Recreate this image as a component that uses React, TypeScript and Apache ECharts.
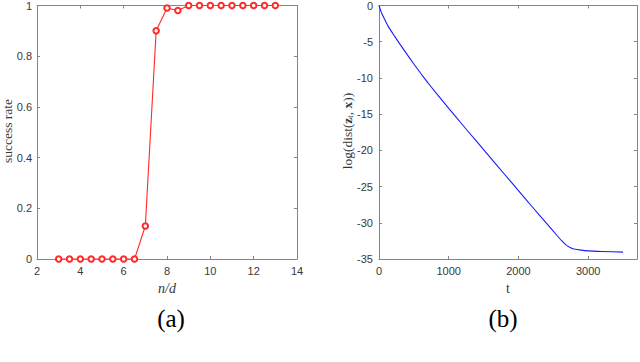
import React, { useEffect, useRef } from "react";
import * as echarts from "echarts";

// Panel (a): success rate vs n/d
const ratioX = [3, 3.5, 4, 4.5, 5, 5.5, 6, 6.5, 7, 7.5, 8, 8.5, 9, 9.5, 10, 10.5, 11, 11.5, 12, 12.5, 13];
const successRate = [0, 0, 0, 0, 0, 0, 0, 0, 0.13, 0.9, 0.99, 0.98, 1, 1, 1, 1, 1, 1, 1, 1, 1];

// Panel (b): log distance vs iteration t
const iterT = [0, 20, 40, 80, 130, 200, 280, 400, 500, 600, 700, 800, 1000, 1200, 1400, 1600, 1800, 2000, 2200, 2400, 2550, 2620, 2680, 2740, 2800, 2900, 3000, 3200, 3500];
const logDist = [0, -0.6, -1.1, -1.9, -2.85, -3.9, -5.05, -6.72, -8.07, -9.39, -10.65, -11.85, -14.2, -16.5, -18.77, -21.03, -23.3, -25.56, -27.82, -30.05, -31.72, -32.48, -33.05, -33.4, -33.62, -33.78, -33.88, -33.96, -34.05];

const xTicksA = { min: 2, max: 14, interval: 2 };
const yTicksA = { min: 0, max: 1, interval: 0.2 };
const xTicksB = { min: 0, max: 3700, interval: 1000 };
const yTicksB = { min: -35, max: 0, interval: 5 };

const AXIS_COLOR = "#858585";
const TEXT_COLOR = "#383838";
const SANS = "'Liberation Sans', Arial, Helvetica, sans-serif";
const SERIF = "'Liberation Serif', 'Times New Roman', serif";

function axisBase(gridIndex: number, pos: string, ticks: any, showLabels: boolean, margin: number, fmt?: (v: number) => string) {
  return {
    type: "value",
    gridIndex,
    position: pos,
    min: ticks.min,
    max: ticks.max,
    interval: ticks.interval,
    splitLine: { show: false },
    axisLine: { show: true, onZero: false, lineStyle: { color: AXIS_COLOR, width: 1 } },
    axisTick: { show: true, inside: true, length: 3, lineStyle: { color: AXIS_COLOR, width: 1 } },
    axisLabel: {
      show: showLabels,
      color: TEXT_COLOR,
      fontFamily: SANS,
      fontSize: 11,
      margin,
      formatter: fmt,
    },
  };
}

export default function App() {
  const ref = useRef<HTMLDivElement>(null);
  useEffect(() => {
    if (!ref.current) return;
    const chart = echarts.init(ref.current, undefined, { renderer: "svg" });
    const option: any = {
      animation: false,
      backgroundColor: "#ffffff",
      grid: [
        { left: 37, top: 4, width: 260, height: 255 },
        { left: 379, top: 4, width: 259, height: 255 },
      ],
      xAxis: [
        axisBase(0, "bottom", xTicksA, true, 6),
        axisBase(0, "top", xTicksA, false, 6),
        axisBase(1, "bottom", xTicksB, true, 6, (v: number) => (v % 1000 === 0 ? String(v) : "")),
        axisBase(1, "top", xTicksB, false, 6),
      ],
      yAxis: [
        axisBase(0, "left", yTicksA, true, 5),
        axisBase(0, "right", yTicksA, false, 5),
        axisBase(1, "left", yTicksB, true, 6),
        axisBase(1, "right", yTicksB, false, 6),
      ],
      series: [
        {
          type: "line",
          xAxisIndex: 0,
          yAxisIndex: 0,
          data: ratioX.map((x, i) => [x, successRate[i]]),
          symbol: "emptyCircle",
          symbolSize: 5.5,
          color: "#ff2a2a",
          lineStyle: { color: "#ff2a2a", width: 1.1 },
          itemStyle: { color: "#ff2a2a", borderColor: "#ff2a2a", borderWidth: 1 },
        },
        {
          type: "line",
          xAxisIndex: 2,
          yAxisIndex: 2,
          data: iterT.map((t, i) => [t, logDist[i]]),
          showSymbol: false,
          symbol: "none",
          smooth: 0.2,
          color: "#1a1aff",
          lineStyle: { color: "#1a1aff", width: 1.1 },
        },
      ],
      graphic: [
        {
          type: "text",
          x: 7,
          y: 131,
          rotation: Math.PI / 2,
          style: { text: "success rate", font: `13.5px ${SERIF}`, fill: TEXT_COLOR, align: "center", verticalAlign: "middle" },
        },
        {
          type: "text",
          x: 167,
          y: 288,
          style: { text: "n/d", font: `italic 14px ${SERIF}`, fill: TEXT_COLOR, align: "center", verticalAlign: "middle" },
        },
        {
          type: "text",
          x: 171,
          y: 318,
          style: { text: "(a)", font: `25px ${SERIF}`, fill: "#000000", align: "center", verticalAlign: "middle" },
        },
        {
          type: "text",
          x: 347,
          y: 131,
          rotation: Math.PI / 2,
          style: {
            text: "{n|log(dist(}{b|z}{s|t}{n|, }{b|x}{n|))}",
            fill: TEXT_COLOR,
            align: "center",
            verticalAlign: "middle",
            rich: {
              n: { fontFamily: SERIF, fontSize: 13.5, fill: TEXT_COLOR, lineHeight: 16 },
              b: { fontFamily: SERIF, fontSize: 13.5, fontWeight: "bold", fill: TEXT_COLOR, lineHeight: 16 },
              s: { fontFamily: SERIF, fontSize: 9, fill: TEXT_COLOR, lineHeight: 16, padding: [5, 0, 0, 0] },
            },
          },
        },
        {
          type: "text",
          x: 508,
          y: 288,
          style: { text: "t", font: `14px ${SERIF}`, fill: TEXT_COLOR, align: "center", verticalAlign: "middle" },
        },
        {
          type: "text",
          x: 503,
          y: 318,
          style: { text: "(b)", font: `25px ${SERIF}`, fill: "#000000", align: "center", verticalAlign: "middle" },
        },
      ],
    };
    chart.setOption(option);
    return () => chart.dispose();
  }, []);
  return (
    <div
      ref={ref}
      style={{ position: "fixed", left: 0, top: 0, width: 640, height: 362, background: "#fff" }}
    />
  );
}
